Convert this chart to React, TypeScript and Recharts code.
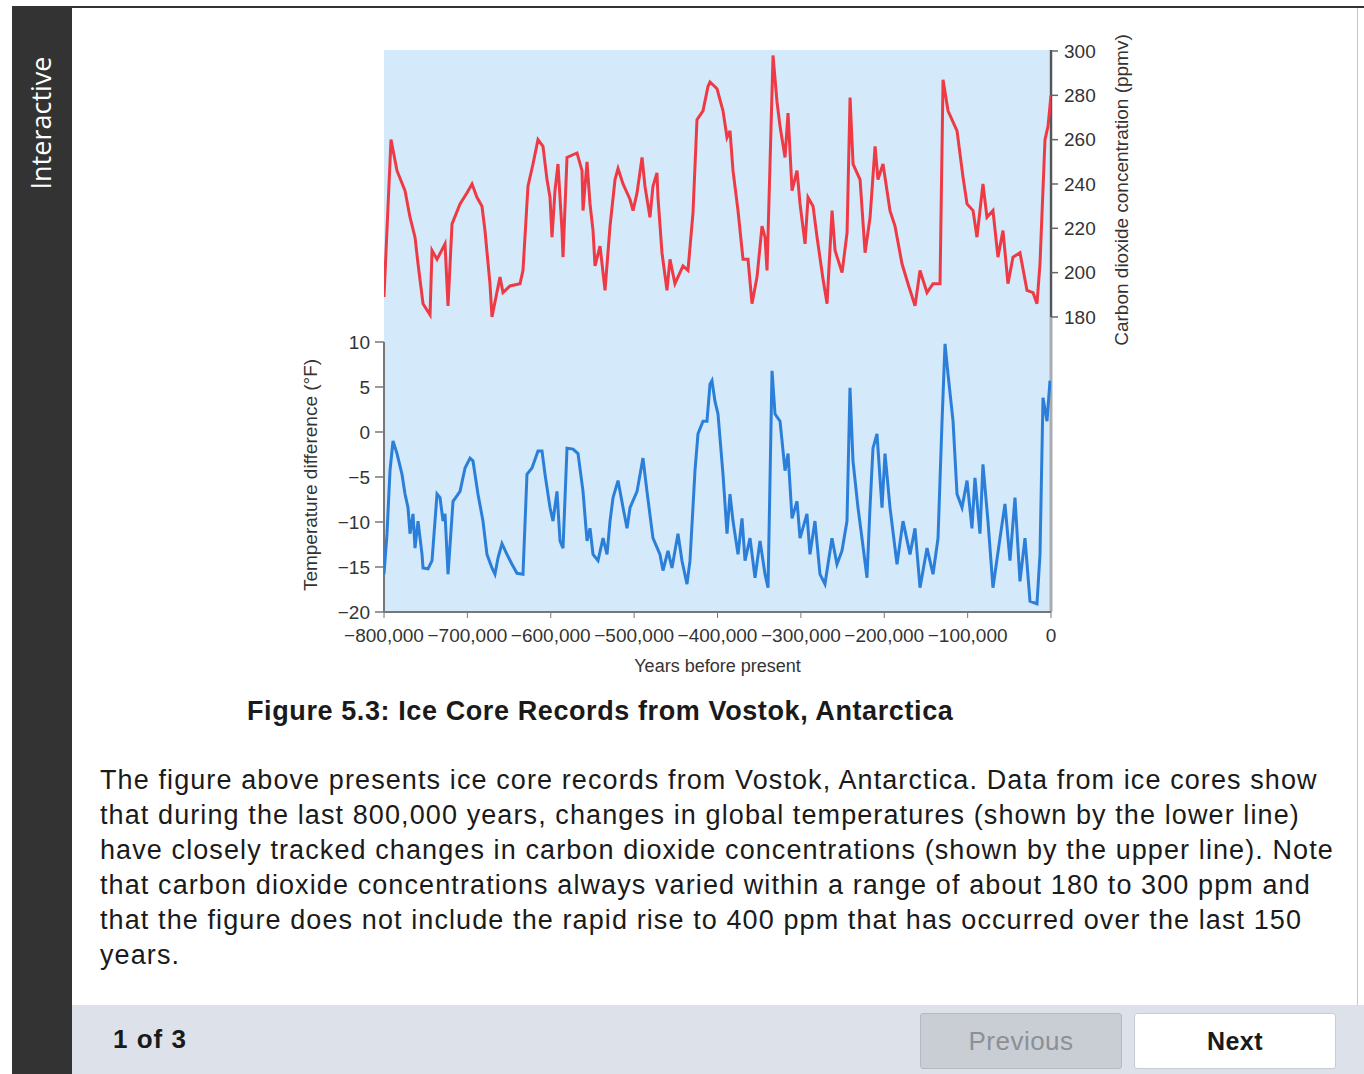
import React from 'react';
import { LineChart, Line, XAxis, YAxis, CartesianGrid, ReferenceLine } from 'recharts';

// thousands of years before present
const co2Age = [
  800, 791.6, 784.4, 774.8, 768.8, 762.8, 759.2, 753.2, 744.8, 742.4, 736.4, 726.8, 723.2, 718.4, 708.8,
  700.4, 694.4, 688.5, 682.5, 678.9, 672.9, 670.5, 660.9, 657.3, 648.9, 636.9, 633.3, 627.3, 621.3, 615.3,
  609.3, 604.5, 600.9, 598.5, 594.9, 591.3, 586.5, 585.3, 580.5, 568.5, 562.5, 561.3, 556.5, 552.9, 549.3,
  546.9, 540.9, 534.9, 528.9, 522.9, 519.3, 513.3, 504.9, 501.3, 496.5, 490.5, 487.0, 481.0, 477.4, 472.6,
  471.4, 466.6, 460.6, 457.0, 451.0, 441.4, 435.4, 429.4, 424.6, 417.4, 411.4, 409.0, 400.6, 393.4, 388.6,
  385.0, 381.4, 375.4, 369.4, 363.4, 358.6, 352.6, 346.6, 343.0, 340.6, 337.0, 333.4, 328.6, 325.0, 319.0,
  315.4, 310.6, 304.6, 301.0, 295.0, 291.4, 285.4, 280.6, 273.4, 268.6, 262.6, 259.0, 250.6, 244.6, 241.0,
  237.4, 229.0, 223.0, 217.0, 211.0, 207.5, 201.5, 193.1, 187.1, 178.7, 171.5, 163.1, 157.1, 148.7, 141.5,
  133.1, 129.5, 123.5, 112.7, 105.5, 100.7, 93.5, 88.8, 81.6, 76.8, 69.6, 63.6, 57.6, 51.6, 45.6,
  37.2, 28.8, 21.6, 16.8, 13.2, 7.2, 3.6, 0,
];
const co2Ppm = [
  189, 260, 246, 237, 225, 216, 204, 186, 181, 210, 206, 213, 185, 222, 231,
  236, 240, 234, 230, 219, 195, 180, 198, 191, 194, 195, 201, 239, 249, 260,
  257, 242, 234, 216, 237, 249, 219, 207, 252, 254, 246, 228, 250, 231, 219,
  203, 212, 192, 221, 242, 247, 240, 233, 228, 236, 252, 239, 225, 239, 245,
  234, 209, 192, 206, 195, 203, 201, 227, 269, 273, 284, 286, 283, 273, 261,
  264, 246, 228, 206, 206, 186, 198, 221, 216, 201, 249, 298, 277, 266, 252,
  272, 237, 246, 231, 213, 234, 230, 216, 197, 186, 228, 210, 200, 218, 279,
  249, 242, 209, 225, 257, 242, 249, 228, 221, 204, 195, 185, 201, 191, 195,
  195, 287, 273, 264, 243, 231, 228, 216, 240, 225, 228, 207, 219, 195, 207,
  209, 192, 191, 186, 204, 260, 266, 280,
];

const tempAge = [
  800, 796.4, 792.8, 789.2, 784.4, 778.4, 774.8, 771.2, 768.8, 765.2, 762.8, 759.2, 754.4, 753.2, 747.2,
  742.4, 736.4, 732.8, 729.2, 726.8, 723.2, 717.2, 708.8, 702.8, 696.8, 693.3, 687.3, 681.3, 676.5, 670.5,
  666.9, 663.3, 658.5, 652.5, 646.5, 640.5, 633.3, 628.5, 622.5, 615.3, 610.5, 606.9, 600.9, 597.3, 592.5,
  588.9, 585.3, 580.5, 573.3, 567.3, 561.3, 556.5, 552.9, 549.3, 543.3, 537.3, 532.5, 528.9, 525.3, 519.3,
  513.3, 508.5, 504.9, 496.5, 489.4, 484.6, 477.4, 469.0, 465.4, 459.4, 454.6, 447.4, 442.6, 436.6, 433.0,
  427.0, 423.4, 417.4, 412.6, 409.0, 406.6, 403.0, 399.4, 393.4, 388.6, 385.0, 381.4, 375.4, 370.6, 367.0,
  361.0, 355.0, 349.0, 343.0, 339.4, 334.6, 331.0, 325.0, 319.0, 315.4, 310.6, 304.6, 301.0, 292.7, 289.1,
  283.1, 277.1, 271.1, 262.7, 256.7, 250.7, 244.7, 241.1, 237.5, 231.5, 226.7, 220.7, 217.1, 213.5, 208.7,
  202.7, 199.1, 193.1, 184.7, 177.5, 169.1, 163.1, 157.1, 148.7, 141.5, 135.5, 130.7, 127.1, 123.5, 117.5,
  112.7, 106.7, 100.7, 94.8, 91.2, 85.2, 81.6, 75.6, 69.6, 61.2, 55.2, 49.2, 43.2, 37.2, 31.2,
  25.2, 16.8, 13.2, 9.6, 4.8, 1.2,
];
const tempF = [
  -15.8, -11.3, -4.3, -1.0, -2.4, -4.7, -6.9, -8.4, -11.3, -9.1, -12.9, -9.9, -13.6, -15.1, -15.2,
  -14.3, -6.9, -7.3, -9.9, -9.1, -15.8, -7.7, -6.6, -4.0, -2.9, -3.2, -6.9, -9.9, -13.6, -15.1,
  -15.8, -14.0, -12.4, -13.6, -14.7, -15.7, -15.8, -4.7, -4.0, -2.1, -2.1, -4.7, -8.4, -9.9, -6.6,
  -12.1, -12.9, -1.8, -1.9, -2.4, -6.6, -12.1, -10.7, -13.6, -14.3, -11.8, -13.6, -9.9, -7.3, -5.4,
  -8.4, -10.7, -8.4, -6.6, -2.9, -6.6, -11.8, -13.6, -15.4, -13.2, -15.1, -11.3, -14.3, -16.9, -14.3,
  -4.3, -0.2, 1.2, 1.2, 5.3, 5.7, 3.4, 2.0, -4.7, -11.3, -6.9, -9.9, -13.6, -9.6, -14.3,
  -11.8, -16.2, -12.1, -15.8, -17.3, 6.8, 2.0, 1.2, -4.3, -2.4, -9.6, -7.7, -11.8, -9.1, -13.6,
  -9.9, -15.8, -16.9, -11.8, -14.7, -13.2, -9.9, 4.9, -3.2, -8.4, -11.8, -16.2, -8.4, -1.8, -0.2,
  -8.4, -2.4, -8.4, -14.7, -9.9, -13.6, -10.7, -17.3, -12.9, -15.8, -11.8, 1.2, 9.8, 6.4, 1.2,
  -6.9, -8.4, -5.4, -10.7, -5.1, -11.3, -3.6, -9.9, -17.3, -11.8, -8.0, -14.3, -7.3, -16.6, -11.8,
  -18.8, -19.1, -13.6, 3.8, 1.2, 5.7,
];

const yearTicks = [-800000, -700000, -600000, -500000, -400000, -300000, -200000, -100000, 0];
const tempTicks = [-20, -15, -10, -5, 0, 5, 10];
const co2Ticks = [180, 200, 220, 240, 260, 280, 300];

const co2Data = co2Age.map((a, i) => ({ year: -a * 1000, co2: co2Ppm[i] }));
const tempData = tempAge.map((a, i) => ({ year: -a * 1000, temp: tempF[i] }));

const paragraph = [
  'The figure above presents ice core records from Vostok, Antarctica. Data from ice cores show',
  'that during the last 800,000 years, changes in global temperatures (shown by the lower line)',
  'have closely tracked changes in carbon dioxide concentrations (shown by the upper line). Note',
  'that carbon dioxide concentrations always varied within a range of about 180 to 300 ppm and',
  'that the figure does not include the rapid rise to 400 ppm that has occurred over the last 150',
  'years.',
];

const sans = '"Liberation Sans", Arial, Helvetica, sans-serif';
const minus = (v: number) => (v < 0 ? '\u2212' + Math.abs(v).toLocaleString('en-US') : v.toLocaleString('en-US'));
const tickStyle = { fill: '#333', fontSize: 19, fontFamily: sans };

const App: React.FC = () => {
  return (
    <div style={{ position: 'absolute', left: 0, top: 0, width: 1364, height: 1074, background: '#fff', overflow: 'hidden', fontFamily: sans }}>
      {/* frame */}
      <div style={{ position: 'absolute', left: 12, top: 6, width: 1352, height: 2, background: '#333' }} />
      <div style={{ position: 'absolute', left: 1357, top: 8, width: 1, height: 1000, background: '#c8c8c8' }} />
      <div style={{ position: 'absolute', left: 12, top: 7, width: 60, height: 1067, background: '#333' }} />
      <div style={{
        position: 'absolute', left: 40, top: 123, transform: 'translate(-50%, -50%) rotate(-90deg)',
        color: '#fff', fontSize: 27, fontFamily: '"Open Sans", "DejaVu Sans", sans-serif', whiteSpace: 'nowrap',
      }}>Interactive</div>

      {/* chart */}
      <div style={{ position: 'absolute', left: 300, top: 20 }}>
        <LineChart width={860} height={680} margin={{ top: 30, right: 29, bottom: 28, left: 0 }}>
          <CartesianGrid yAxisId="temp" horizontal={false} vertical={false} fill="#d4e9f9" stroke="none" />
          <XAxis
            type="number"
            dataKey="year"
            domain={[-800000, 0]}
            allowDataOverflow
            ticks={yearTicks}
            interval={0}
            tickFormatter={minus}
            tick={tickStyle}
            tickSize={6}
            tickMargin={11}
            height={60}
            stroke="#777"
            axisLine={{ stroke: '#777', strokeWidth: 2 }}
            label={{ value: 'Years before present', position: 'insideBottom', offset: 0, fill: '#333', fontSize: 18, fontFamily: sans }}
          />
          <YAxis
            yAxisId="temp"
            orientation="left"
            type="number"
            domain={[-20, 42.44]}
            allowDataOverflow
            ticks={tempTicks}
            interval={0}
            width={84}
            axisLine={false}
            tickLine={{ stroke: '#777', strokeWidth: 1.5 }}
            tickSize={9}
            tickMargin={5}
            tick={tickStyle}
            tickFormatter={minus}
          />
          <YAxis
            yAxisId="co2"
            orientation="right"
            type="number"
            domain={[46.9, 300.45]}
            allowDataOverflow
            ticks={co2Ticks}
            interval={0}
            width={80}
            axisLine={false}
            tickLine={{ stroke: '#666', strokeWidth: 1.5 }}
            tickSize={7}
            tickMargin={6}
            tick={tickStyle}
          />
          <ReferenceLine yAxisId="co2" x={0} stroke="#a9adb2" strokeWidth={3} />
          <ReferenceLine yAxisId="temp" segment={[{ x: -800000, y: -20 }, { x: -800000, y: 10 }]} stroke="#777" strokeWidth={2} />
          <ReferenceLine yAxisId="co2" segment={[{ x: 0, y: 180 }, { x: 0, y: 300.45 }]} stroke="#555" strokeWidth={2} />
          <Line data={co2Data} dataKey="co2" yAxisId="co2" type="linear" stroke="#ee3a45" strokeWidth={3} dot={false} activeDot={false} isAnimationActive={false} />
          <Line data={tempData} dataKey="temp" yAxisId="temp" type="linear" stroke="#2b7fd9" strokeWidth={3} dot={false} activeDot={false} isAnimationActive={false} />
        </LineChart>
      </div>
      <div style={{ position: 'absolute', left: 311, top: 475, transform: 'translate(-50%, -50%) rotate(-90deg)', whiteSpace: 'nowrap', fontSize: 19, color: '#333' }}>
        Temperature difference (°F)
      </div>
      <div style={{ position: 'absolute', left: 1122, top: 190, transform: 'translate(-50%, -50%) rotate(-90deg)', whiteSpace: 'nowrap', fontSize: 19, color: '#333' }}>
        Carbon dioxide concentration (ppmv)
      </div>

      {/* caption and text */}
      <div style={{ position: 'absolute', left: 247, top: 694, fontSize: 27, letterSpacing: 0.6, fontWeight: 'bold', color: '#1a1a1a', whiteSpace: 'nowrap', lineHeight: '34px' }}>
        Figure 5.3: Ice Core Records from Vostok, Antarctica
      </div>
      <div style={{ position: 'absolute', left: 100, top: 763, fontSize: 27, letterSpacing: 1.1, lineHeight: '35px', color: '#1a1a1a' }}>
        {paragraph.map((l, i) => (
          <div key={i} style={{ whiteSpace: 'nowrap' }}>{l}</div>
        ))}
      </div>

      {/* footer */}
      <div style={{ position: 'absolute', left: 72, top: 1005, width: 1292, height: 69, background: '#dde2ea' }} />
      <div style={{ position: 'absolute', left: 113, top: 1022, fontSize: 26, letterSpacing: 1, fontWeight: 'bold', color: '#1a1a1a', lineHeight: '34px' }}>1 of 3</div>
      <div style={{
        position: 'absolute', left: 920, top: 1013, width: 200, height: 54, background: '#c9cdd4', border: '1px solid #b5b9c0',
        borderRadius: 3, color: '#8b9097', fontSize: 26, letterSpacing: 0.5, display: 'flex', alignItems: 'center', justifyContent: 'center',
      }}>Previous</div>
      <div style={{
        position: 'absolute', left: 1134, top: 1013, width: 200, height: 54, background: '#fff', border: '1px solid #c8ccd2',
        borderRadius: 3, color: '#1a1a1a', fontSize: 25, letterSpacing: 0.5, fontWeight: 'bold', display: 'flex', alignItems: 'center', justifyContent: 'center',
      }}>Next</div>
    </div>
  );
};

export default App;
